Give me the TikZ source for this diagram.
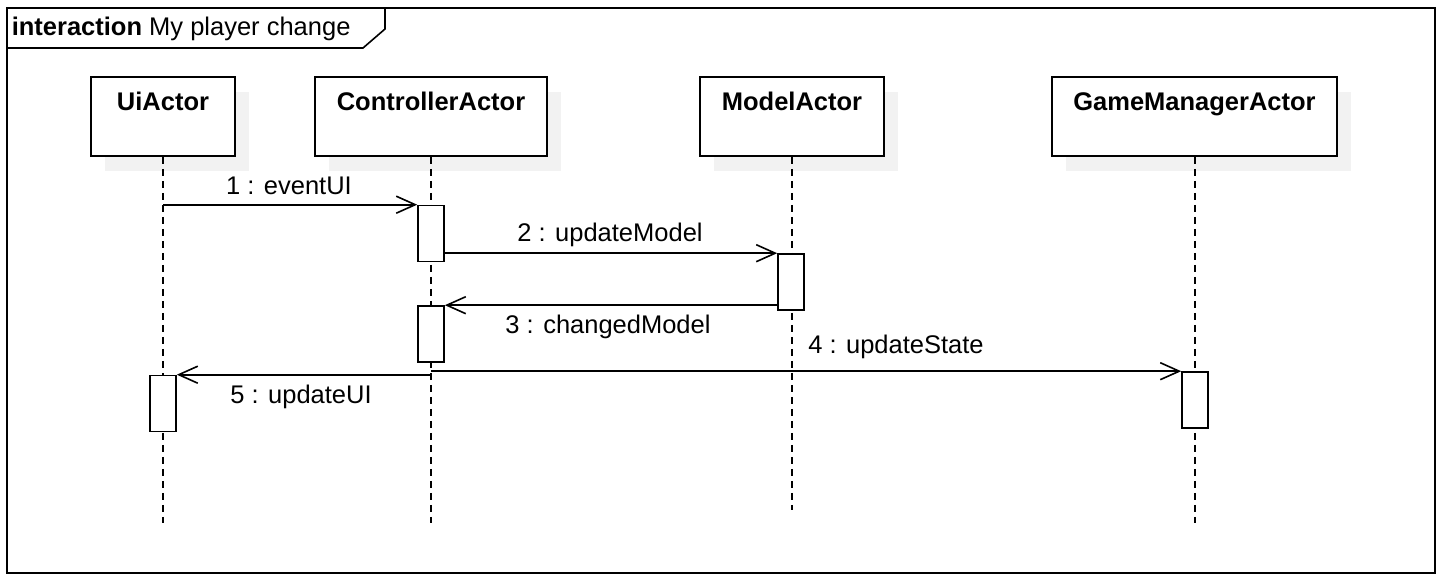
\documentclass[tikz,border=0pt]{standalone}
\usepackage{fontspec}
\setmainfont{Liberation Sans}
\usetikzlibrary{arrows.meta}
\begin{document}
\begin{tikzpicture}[x=1pt,y=-1pt,line width=1.6pt,
  txt/.style={font=\fontsize{25.5}{30}\selectfont, inner sep=0pt, anchor=base},
  bold/.style={txt, font=\fontsize{25.5}{30}\selectfont\bfseries},
  actorbox/.style={draw, fill=white, rectangle, inner sep=0pt},
  actbox/.style={draw, fill=white, rectangle, inner sep=0pt, minimum width=26pt, minimum height=56pt},
  lifeline/.style={dash pattern=on 7pt off 5pt, line width=1.6pt},
  msg/.style={-{Straight Barb[length=19pt,width=17pt]}}
]
\useasboundingbox (0,0) rectangle (1442,580);
% frame
\draw (7,8) rectangle (1435,573);
\draw (7,48) -- (363,48) -- (385,29) -- (385,8);
\node[txt, anchor=base west] (title) at (11,36) {\textbf{interaction} My player change};

% shadows
\fill[black!5] (105,92) rectangle (249,171);
\fill[black!5] (329,92) rectangle (561,171);
\fill[black!5] (714,92) rectangle (898,171);
\fill[black!5] (1066,92) rectangle (1351,171);

% actors
\node[actorbox, minimum width=144pt, minimum height=79pt] (ui) at (163,116.5) {};
\node[actorbox, minimum width=232pt, minimum height=79pt] (ctrl) at (431,116.5) {};
\node[actorbox, minimum width=184pt, minimum height=79pt] (model) at (792,116.5) {};
\node[actorbox, minimum width=285pt, minimum height=79pt] (gm) at (1194.5,116.5) {};
\node[bold] (uit) at (163,111) {UiActor};
\node[bold] (ctrlt) at (431,111) {ControllerActor};
\node[bold] (modelt) at (792,111) {ModelActor};
\node[bold] (gmt) at (1194.5,111) {GameManagerActor};

% lifeline ends
\coordinate (uiend) at (163,523);
\coordinate (ctrlend) at (431,523);
\coordinate (modelend) at (792,510);
\coordinate (gmend) at (1195,523);
\draw[lifeline] (ui.south) -- (uiend);
\draw[lifeline] (ctrl.south) -- (ctrlend);
\draw[lifeline] (model.south) -- (modelend);
\draw[lifeline] (gm.south -| gmend) -- (gmend);

% activations
\node[actbox] (a1) at (431,233.5) {};
\node[actbox] (m1) at (791,282) {};
\node[actbox] (a2) at (431,334) {};
\node[actbox] (u1) at (163,403.5) {};
\node[actbox] (g1) at (1195,400) {};

% messages
\draw[msg] (a1.north west -| ui) -- (a1.north west);
\draw[msg] (m1.north west -| a1.east) -- (m1.north west);
\draw[msg] (a2.north east -| m1.west) -- (a2.north east);
\draw[msg] (g1.north west -| ctrl) -- (g1.north west);
\draw[msg] (u1.north east -| ctrl) -- (u1.north east);

% labels
\node[txt] (l1) at (289,194) {1 : eventUI};
\node[txt] (l2) at (610,241) {2 : updateModel};
\node[txt] (l3) at (608,333) {3 : changedModel};
\node[txt] (l4) at (896,353) {4 : updateState};
\node[txt] (l5) at (301,403) {5 : updateUI};
\end{tikzpicture}
\end{document}
